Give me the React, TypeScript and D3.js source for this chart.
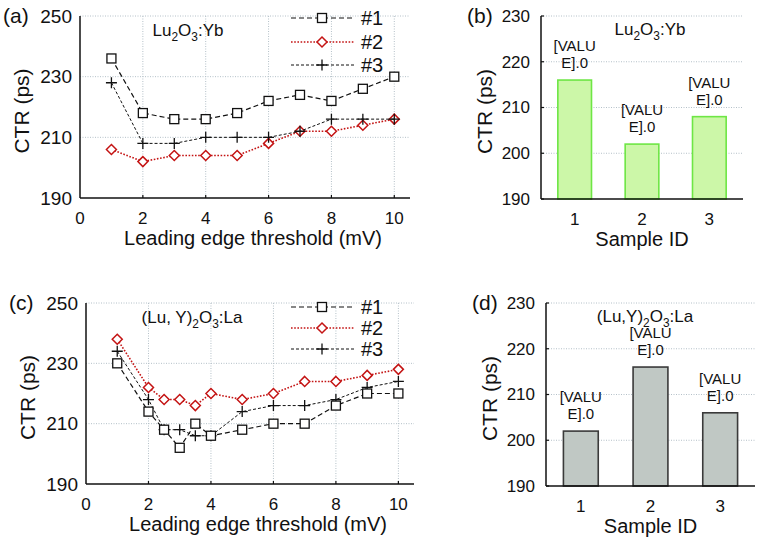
import React from "react";
import * as d3 from "d3";

// ---- Data ----
const thresholdsA = [1, 2, 3, 4, 5, 6, 7, 8, 9, 10];
const a1 = [236, 218, 216, 216, 218, 222, 224, 222, 226, 230];
const a2 = [206, 202, 204, 204, 204, 208, 212, 212, 214, 216];
const a3 = [228, 208, 208, 210, 210, 210, 212, 216, 216, 216];

const thresholdsC = [1, 2, 2.5, 3, 3.5, 4, 5, 6, 7, 8, 9, 10];
const c1 = [230, 214, 208, 202, 210, 206, 208, 210, 210, 216, 220, 220];
const c2 = [238, 222, 218, 218, 216, 220, 218, 220, 224, 224, 226, 228];
const c3 = [234, 218, 208, 208, 206, 206, 214, 216, 216, 218, 222, 224];

const sampleIds = ["1", "2", "3"];
const barsB = [216, 202, 208];
const barsD = [202, 216, 206];

const seriesNames = ["#1", "#2", "#3"];
const xTicks = [0, 2, 4, 6, 8, 10];
const yTicksLine = [190, 210, 230, 250];
const yTicksBar = [190, 200, 210, 220, 230];

const FONT = "'Liberation Sans', Arial, sans-serif";
const RED = "#c41414";
const GRID = "#b4c0c8";

type Sty = { color: string; dash: string; marker: "square" | "diamond" | "plus"; width: number };
const styles: Sty[] = [
  { color: "#111", dash: "5,3", marker: "square", width: 1.2 },
  { color: RED, dash: "1.6,1.6", marker: "diamond", width: 1.6 },
  { color: "#111", dash: "3,2", marker: "plus", width: 1.0 },
];

function Marker({ x, y, s }: { x: number; y: number; s: Sty }) {
  if (s.marker === "square")
    return <rect x={x - 4.5} y={y - 4.5} width={9} height={9} fill="white" stroke="#111" strokeWidth={1.3} />;
  if (s.marker === "diamond")
    return (
      <path d={`M${x},${y - 5}L${x + 5},${y}L${x},${y + 5}L${x - 5},${y}Z`} fill="white" stroke={RED} strokeWidth={1.5} />
    );
  return (
    <path d={`M${x - 5.5},${y}H${x + 5.5}M${x},${y - 5.5}V${y + 5.5}`} stroke="#111" strokeWidth={1.3} />
  );
}

function Chem({ parts, x, y, size }: { parts: [string, boolean][]; x: number; y: number; size: number }) {
  return (
    <text x={x} y={y} fontFamily={FONT} fontSize={size} textAnchor="middle" fill="#111">
      {parts.map(([t, sub], i) =>
        sub ? (
          <tspan key={i} fontSize={size * 0.7} dy={size * 0.3}>
            {t}
          </tspan>
        ) : (
          <tspan key={i} dy={i > 0 && parts[i - 1][1] ? -size * 0.3 : 0}>
            {t}
          </tspan>
        )
      )}
    </text>
  );
}

function LinePanel({
  xs,
  series,
  left,
  right,
  top,
  bottom,
  label,
  chem,
  chemX,
  legendYs,
}: {
  xs: number[];
  series: number[][];
  left: number;
  right: number;
  top: number;
  bottom: number;
  label: string;
  chem: [string, boolean][];
  chemX: number;
  legendYs: number[];
}) {
  const x = d3.scaleLinear().domain([0, 10.5]).range([left, right]);
  const y = d3.scaleLinear().domain([190, 250]).range([bottom, top]);
  const ordered = [1, 2, 0];
  return (
    <g>
      {yTicksLine.slice(1).map((t) => (
        <line key={"gy" + t} x1={left} x2={right} y1={y(t)} y2={y(t)} stroke={GRID} strokeDasharray="1,1.5" />
      ))}
      {xTicks.slice(1).map((t) => (
        <line key={"gx" + t} x1={x(t)} x2={x(t)} y1={top} y2={bottom} stroke={GRID} strokeDasharray="1,1.5" />
      ))}
      {ordered.map((si) => {
        const s = styles[si];
        const line = d3
          .line<number>()
          .x((_, i) => x(xs[i]))
          .y((d) => y(d));
        return (
          <g key={si}>
            <path d={line(series[si]) || ""} fill="none" stroke={s.color} strokeWidth={s.width} strokeDasharray={s.dash} />
            {series[si].map((v, i) => (
              <Marker key={i} x={x(xs[i])} y={y(v)} s={s} />
            ))}
          </g>
        );
      })}
      <line x1={left} x2={left} y1={top} y2={bottom} stroke="#111" strokeWidth={1.5} />
      <line x1={left} x2={right} y1={bottom} y2={bottom} stroke="#111" strokeWidth={1.5} />
      {xTicks.slice(1).map((t) => (
        <line key={"tx" + t} x1={x(t)} x2={x(t)} y1={bottom} y2={bottom - 3} stroke="#111" strokeWidth={1.2} />
      ))}
      {yTicksLine.map((t) => (
        <text key={"ly" + t} x={left - 8} y={y(t)} dy="0.35em" textAnchor="end" fontFamily={FONT} fontSize={19} fill="#111">
          {t}
        </text>
      ))}
      {xTicks.map((t) => (
        <text key={"lx" + t} x={x(t)} y={bottom + 20} dy="0.35em" textAnchor="middle" fontFamily={FONT} fontSize={17} fill="#111">
          {t}
        </text>
      ))}
      <text x={(left + right) / 2 + 8} y={bottom + 40} dy="0.35em" textAnchor="middle" fontFamily={FONT} fontSize={20} fill="#111">
        Leading edge threshold (mV)
      </text>
      <text
        transform={`translate(${left - 58},${(top + bottom) / 2 + 4}) rotate(-90)`}
        textAnchor="middle"
        dy="0.35em"
        fontFamily={FONT}
        fontSize={21}
        fill="#111"
      >
        CTR (ps)
      </text>
      <text x={left - 77} y={top + 7} fontFamily={FONT} fontSize={21} fill="#111">
        {label}
      </text>
      <Chem parts={chem} x={chemX} y={top + 20} size={17} />
      {seriesNames.map((n, i) => {
        const s = styles[i];
        const ly = legendYs[i];
        return (
          <g key={n}>
            <line x1={291} x2={354} y1={ly} y2={ly} stroke={s.color} strokeWidth={s.width} strokeDasharray={s.dash} />
            <Marker x={322} y={ly} s={s} />
            <text x={361} y={ly} dy="0.35em" fontFamily={FONT} fontSize={20} fill="#111">
              {n}
            </text>
          </g>
        );
      })}
    </g>
  );
}

function BarPanel({
  values,
  left,
  right,
  top,
  bottom,
  label,
  chem,
  chemX,
  fill,
  stroke,
}: {
  values: number[];
  left: number;
  right: number;
  top: number;
  bottom: number;
  label: string;
  chem: [string, boolean][];
  chemX: number;
  fill: string;
  stroke: string;
}) {
  const x = d3.scaleBand<string>().domain(sampleIds).range([left, right]).paddingInner(0.5).paddingOuter(0.25);
  const y = d3.scaleLinear().domain([190, 230]).range([bottom, top]);
  return (
    <g>
      {yTicksBar.slice(1).map((t) => (
        <line key={"gy" + t} x1={left} x2={right} y1={y(t)} y2={y(t)} stroke={GRID} strokeDasharray="1,1.5" />
      ))}
      {values.map((v, i) => (
        <rect
          key={i}
          x={x(sampleIds[i])}
          y={y(v)}
          width={x.bandwidth()}
          height={y(190) - y(v)}
          fill={fill}
          stroke={stroke}
          strokeWidth={1.6}
        />
      ))}
      {values.map((v, i) => (
        <text key={"vl" + i} x={(x(sampleIds[i]) || 0) + x.bandwidth() / 2} y={y(v)} textAnchor="middle" fontFamily={FONT} fontSize={15} fill="#111">
          <tspan x={(x(sampleIds[i]) || 0) + x.bandwidth() / 2} dy={-29}>
            [VALU
          </tspan>
          <tspan x={(x(sampleIds[i]) || 0) + x.bandwidth() / 2} dy={17}>
            E].0
          </tspan>
        </text>
      ))}
      <line x1={left} x2={left} y1={top} y2={bottom} stroke="#111" strokeWidth={1.5} />
      <line x1={left} x2={right} y1={bottom} y2={bottom} stroke="#111" strokeWidth={1.5} />
      {yTicksBar.map((t) => (
        <line key={"ty" + t} x1={left} x2={left + 3} y1={y(t)} y2={y(t)} stroke="#111" strokeWidth={1.2} />
      ))}
      {yTicksBar.map((t) => (
        <text key={"ly" + t} x={left - 11} y={y(t)} dy="0.35em" textAnchor="end" fontFamily={FONT} fontSize={17} fill="#111">
          {t}
        </text>
      ))}
      {sampleIds.map((s) => (
        <text key={s} x={(x(s) || 0) + x.bandwidth() / 2} y={bottom + 20} dy="0.35em" textAnchor="middle" fontFamily={FONT} fontSize={17} fill="#111">
          {s}
        </text>
      ))}
      <text x={(left + right) / 2} y={bottom + 40} dy="0.35em" textAnchor="middle" fontFamily={FONT} fontSize={20} fill="#111">
        Sample ID
      </text>
      <text
        transform={`translate(${left - 56},${(top + bottom) / 2 + 4}) rotate(-90)`}
        textAnchor="middle"
        dy="0.35em"
        fontFamily={FONT}
        fontSize={21}
        fill="#111"
      >
        CTR (ps)
      </text>
      <text x={left - 74} y={top + 7} fontFamily={FONT} fontSize={21} fill="#111">
        {label}
      </text>
      <Chem parts={chem} x={chemX} y={top + 19} size={17} />
    </g>
  );
}

const chemLu: [string, boolean][] = [["Lu", false], ["2", true], ["O", false], ["3", true], [":Yb", false]];
const chemLuYc: [string, boolean][] = [["(Lu, Y)", false], ["2", true], ["O", false], ["3", true], [":La", false]];
const chemLuYd: [string, boolean][] = [["(Lu,Y)", false], ["2", true], ["O", false], ["3", true], [":La", false]];

export default function App() {
  return (
    <svg width={771} height={543} style={{ position: "absolute", left: 0, top: 0, background: "white" }}>
      <rect width={771} height={543} fill="white" />
      <LinePanel xs={thresholdsA} series={[a1, a2, a3]} left={80} right={410} top={16} bottom={198} label="(a)" chem={chemLu} chemX={188} legendYs={[18, 42, 65]} />
      <LinePanel xs={thresholdsC} series={[c1, c2, c3]} left={86} right={414} top={303} bottom={484} label="(c)" chem={chemLuYc} chemX={192} legendYs={[307, 328, 349]} />
      <BarPanel values={barsB} left={541} right={743} top={16} bottom={199} label="(b)" chem={chemLu} chemX={650} fill="#ccf7a8" stroke="#6ee645" />
      <BarPanel values={barsD} left={546} right={755} top={303} bottom={486} label="(d)" chem={chemLuYd} chemX={645} fill="#c0c8c4" stroke="#3a3a3a" />
    </svg>
  );
}
